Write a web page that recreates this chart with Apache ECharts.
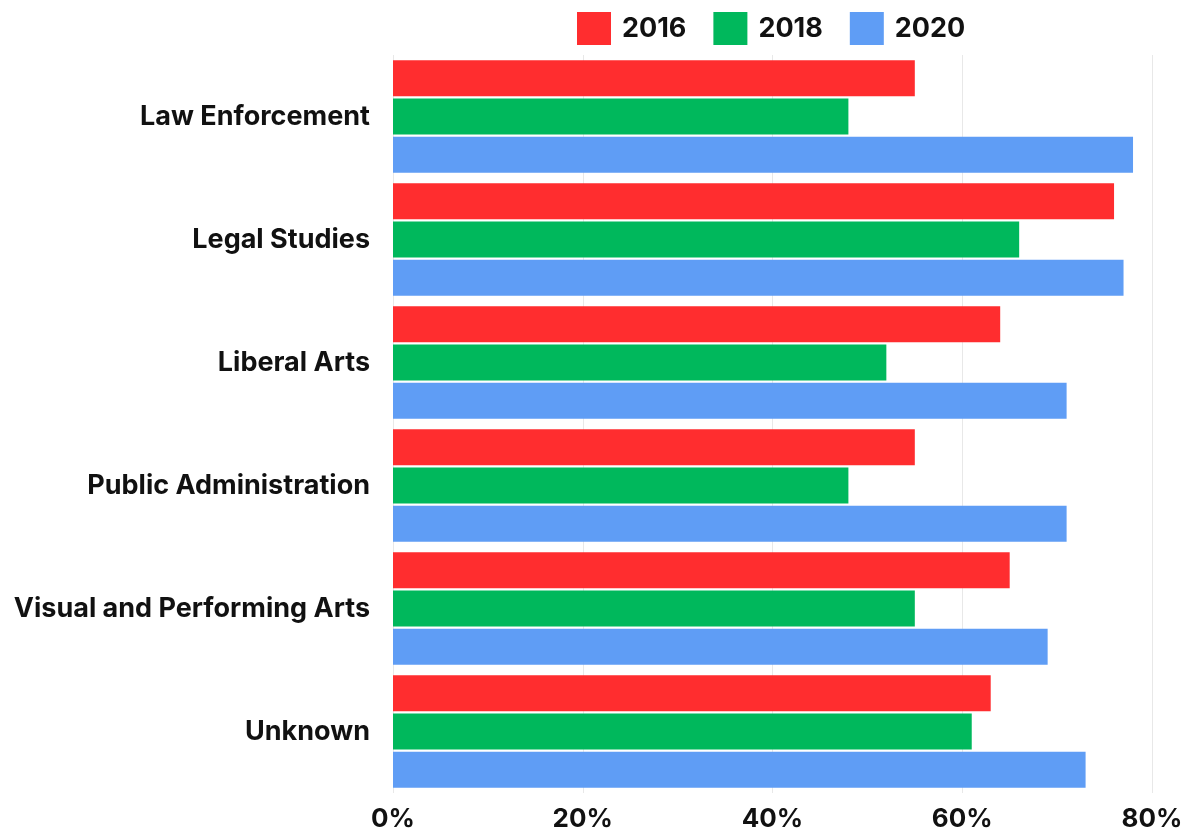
<!DOCTYPE html>
<html>
<head>
<meta charset="utf-8">
<script src="https://cdn.jsdelivr.net/npm/echarts@6/dist/echarts.min.js"></script>
<style>
html,body{margin:0;padding:0;background:#fff;}
#chart{width:1192px;height:838px;}
</style>
</head>
<body>
<div id="chart"></div>
<script>
const categories = ["Law Enforcement","Legal Studies","Liberal Arts","Public Administration","Visual and Performing Arts","Unknown"];
const seriesNames = ["2016","2018","2020"];
const values2016 = [55, 76, 64, 55, 65, 63];
const values2018 = [48, 66, 52, 48, 55, 61];
const values2020 = [78, 77, 71, 71, 69, 73];
const xTicks = [0, 20, 40, 60, 80];
const colors = ["#FF2D2F", "#00B85C", "#5F9DF5"];

const chart = echarts.init(document.getElementById('chart'), null, {renderer:'canvas'});
const fontFam = 'Inter, "Open Sans", sans-serif';
const allSeries = [values2016, values2018, values2020].map((vals, i) => ({
  name: seriesNames[i],
  type: 'bar',
  data: vals,
  barWidth: 36,
  barGap: '6%',
  itemStyle: {color: colors[i]},
  animation: false
}));
chart.setOption({
  animation: false,
  backgroundColor: '#fff',
  legend: {
    top: 7,
    left: 572,
    itemWidth: 34,
    itemHeight: 33,
    itemGap: 27,
    icon: 'rect',
    textStyle: {fontSize: 27, fontWeight: 'bold', color: '#111', fontFamily: fontFam, padding: [0,0,0,6]},
    data: seriesNames
  },
  grid: {left: 393, right: 40, top: 55, bottom: 45, containLabel: false},
  xAxis: {
    type: 'value',
    min: xTicks[0],
    max: xTicks[xTicks.length - 1],
    interval: 20,
    axisLine: {show: false},
    axisTick: {show: false},
    splitLine: {show: true, lineStyle: {color: '#e8e8e8', width: 1}},
    axisLabel: {formatter: v => v + '%', fontSize: 26, fontWeight: 'bold', color: '#111', fontFamily: fontFam, margin: 13}
  },
  yAxis: {
    type: 'category',
    inverse: true,
    data: categories,
    axisLine: {show: false},
    axisTick: {show: false},
    axisLabel: {fontSize: 27, fontWeight: 'bold', color: '#111', fontFamily: fontFam, margin: 23}
  },
  series: allSeries
});
</script>
</body>
</html>
